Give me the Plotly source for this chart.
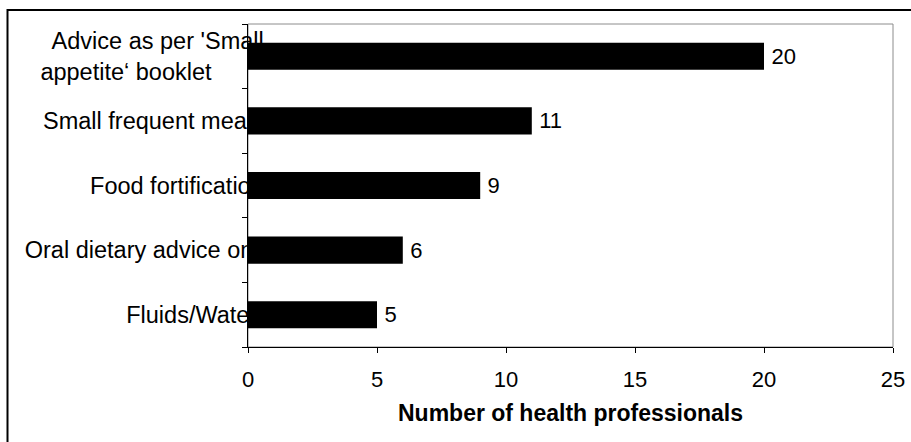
import plotly.graph_objects as go

# ---- data ----
categories = [
    "Advice as per 'Small<br>appetite‘ booklet",
    "Small frequent meals",
    "Food fortification",
    "Oral dietary advice only",
    "Fluids/Water",
]
values = [20, 11, 9, 6, 5]
x_ticks = [0, 5, 10, 15, 20, 25]
x_title = "Number of health professionals"

# ---- style ----
FONT = "Liberation Sans, Arial, sans-serif"
NB = "\u00a0"
# trailing non-breaking spaces per line, to mimic the original label alignment
label_pads = [[1, 9], [1], [1], [0], [2]]


def pad_label(label, pads):
    lines = label.split("<br>")
    return "<br>".join(line + NB * p for line, p in zip(lines, pads))


ticktext = [pad_label(c, p) for c, p in zip(categories, label_pads)]

fig = go.Figure(
    go.Bar(
        x=values,
        y=categories,
        orientation="h",
        marker=dict(color="black", line=dict(width=0)),
        width=0.42,
        text=values,
        texttemplate="\u2009%{text}",
        textposition="outside",
        constraintext="none",
        cliponaxis=False,
        textfont=dict(family=FONT, size=22, color="black"),
        hoverinfo="x+y",
    )
)

fig.update_layout(
    template="none",
    width=911,
    height=442,
    autosize=False,
    margin=dict(l=248, r=18, t=24, b=95, pad=0),
    paper_bgcolor="white",
    plot_bgcolor="white",
    showlegend=False,
    font=dict(family=FONT, size=22, color="black"),
    shapes=[
        # plot-area frame (grey)
        dict(type="rect", xref="paper", yref="paper", x0=0, x1=1, y0=0, y1=1,
             line=dict(color="#8c8c8c", width=1), layer="below"),
        # outer chart border
        dict(type="rect", xref="paper", yref="paper",
             x0=(7.5 - 248) / 645, x1=1.2, y0=-0.5, y1=(347 - 10) / 323,
             line=dict(color="black", width=2), layer="above"),
    ],
)

fig.update_xaxes(
    range=[0, 25],
    tickvals=x_ticks,
    ticks="outside",
    ticklen=5,
    tickcolor="black",
    tickwidth=1,
    showline=True,
    linecolor="black",
    linewidth=1,
    showgrid=False,
    zeroline=False,
    automargin=False,
    ticklabelstandoff=8,
    tickfont=dict(family=FONT, size=22, color="black"),
    title=dict(text="<b>" + x_title + "</b>",
               font=dict(family=FONT, size=23, color="black"), standoff=13),
)

fig.update_yaxes(
    type="category",
    autorange="reversed",
    tickson="boundaries",
    ticks="outside",
    ticklen=5,
    tickcolor="black",
    showline=True,
    linecolor="black",
    linewidth=1,
    showgrid=False,
    zeroline=False,
    automargin=False,
    layer="below traces",
    tickvals=categories,
    ticktext=ticktext,
    ticklabelstandoff=-28,
    tickfont=dict(family=FONT, size=23.5, color="black"),
)

fig.write_html(
    "out.html",
    config={"displayModeBar": False},
    post_script="document.body.style.margin='0px';document.body.style.overflow='hidden';",
)
